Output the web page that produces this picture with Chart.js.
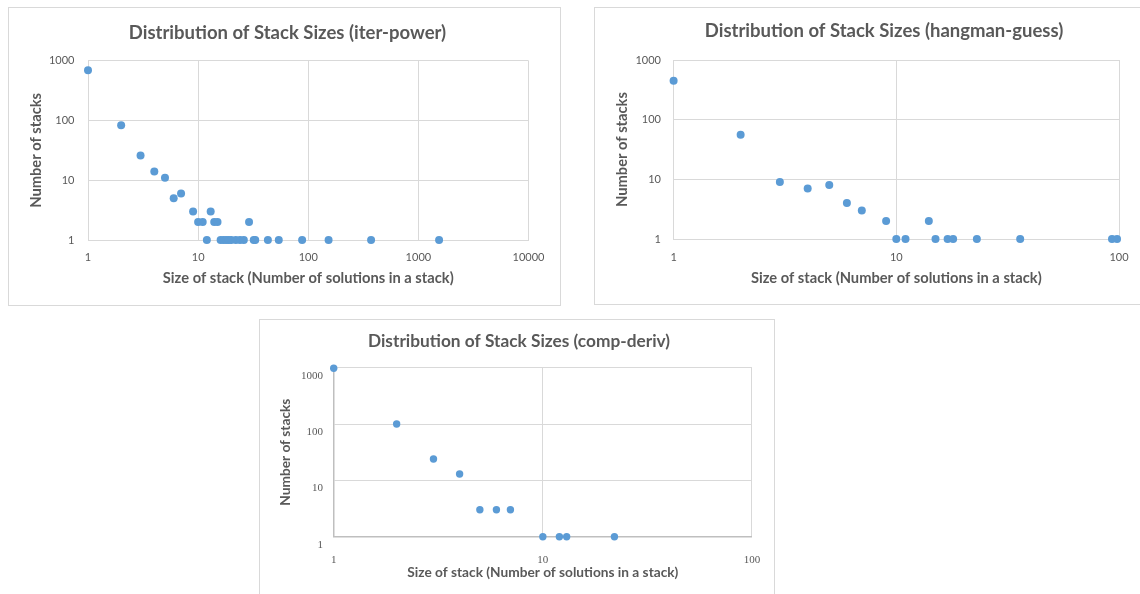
<!DOCTYPE html>
<html>
<head>
<meta charset="utf-8">
<script src="https://cdn.jsdelivr.net/npm/chart.js@4.4.1/dist/chart.umd.min.js"></script>
<style>
  html, body { margin: 0; padding: 0; background: #ffffff; }
  body { width: 1140px; height: 594px; position: relative; overflow: hidden; }
  .panel { position: absolute; box-sizing: border-box; border: 1px solid #d9d9d9; background: #fff; }
  .panel canvas { position: absolute; left: 0; top: 0; }
</style>
</head>
<body>
<div class="panel" id="p1" style="left:8px; top:7px; width:553px; height:299px;">
  <canvas id="c1" width="557" height="297" style="width:557px;height:297px;"></canvas>
</div>
<div class="panel" id="p2" style="left:594px; top:7px; width:590px; height:298px;">
  <canvas id="c2" width="578" height="296" style="width:578px;height:296px;"></canvas>
</div>
<div class="panel" id="p3" style="left:259px; top:319px; width:516px; height:300px;">
  <canvas id="c3" width="518" height="274" style="width:518px;height:274px;"></canvas>
</div>
<script>
// ---------- DATA ----------
const iterPowerSizes  = [1, 2, 3, 4, 5, 6, 7, 9, 10, 11, 12, 13, 14, 15, 16, 17, 18, 19, 20, 22, 24, 26, 29, 32, 33, 43, 54, 88, 153, 372, 1542];
const iterPowerCounts = [690, 83, 26, 14, 11, 5, 6, 3, 2, 2, 1, 3, 2, 2, 1, 1, 1, 1, 1, 1, 1, 1, 2, 1, 1, 1, 1, 1, 1, 1, 1];

const hangmanSizes  = [1, 2, 3, 4, 5, 6, 7, 9, 10, 11, 14, 15, 17, 18, 23, 36, 93, 98];
const hangmanCounts = [450, 56, 9, 7, 8, 4, 3, 2, 1, 1, 2, 1, 1, 1, 1, 1, 1, 1];

const compDerivSizes  = [1, 2, 3, 4, 5, 6, 7, 10, 12, 13, 22];
const compDerivCounts = [980, 100, 24, 13, 3, 3, 3, 1, 1, 1, 1];

const yTickValues = [1, 10, 100, 1000];
const yTickLabels = ['1', '10', '100', '1000'];
const xTickValues1 = [1, 10, 100, 1000, 10000];
const xTickLabels1 = ['1', '10', '100', '1000', '10000'];
const xTickValues2 = [1, 10, 100];
const xTickLabels2 = ['1', '10', '100'];

const titles = [
  'Distribution of Stack Sizes (iter-power)',
  'Distribution of Stack Sizes (hangman-guess)',
  'Distribution of Stack Sizes (comp-deriv)'
];
const xAxisTitle = 'Size of stack (Number of solutions in a stack)';
const yAxisTitle = 'Number of stacks';

// ---------- STYLE ----------
const TEXT = '#595959';
const GRID = '#d9d9d9';
const POINT = '#5b9bd5';
const FONT = 'Lato, "Open Sans", sans-serif';

function makeChart(id, sizes, counts, xVals, xLabels, L) {
  const ctx = document.getElementById(id);
  return new Chart(ctx, {
    type: 'scatter',
    data: {
      datasets: [{
        data: sizes.map((s, i) => ({ x: s, y: counts[i] })),
        backgroundColor: POINT,
        borderColor: POINT,
        borderWidth: 0,
        pointRadius: L.r,
        pointHoverRadius: L.r,
        clip: false
      }]
    },
    options: {
      responsive: false,
      animation: false,
      events: [],
      layout: { padding: 0 },
      plugins: {
        legend: { display: false },
        tooltip: { enabled: false },
        title: {
          display: true,
          text: L.title,
          color: TEXT,
          font: { family: FONT, size: L.titleSize, weight: 'bold', lineHeight: 1 },
          padding: { top: L.titleTop, bottom: L.titleBottom }
        }
      },
      scales: {
        x: {
          type: 'logarithmic',
          min: xVals[0],
          max: xVals[xVals.length - 1],
          afterBuildTicks: (s) => { s.ticks = xVals.map(v => ({ value: v })); },
          afterFit: (s) => { s.height = L.xHeight; },
          ticks: {
            autoSkip: false, maxRotation: 0, minRotation: 0,
            color: TEXT,
            padding: L.xTickPad,
            font: { family: L.tickFont, size: L.tickSize, lineHeight: 1 },
            callback: (v, i) => xLabels[i]
          },
          grid: { color: GRID, lineWidth: 1, drawTicks: false },
          border: { color: L.axisColor, width: L.axisWidth },
          title: {
            display: true, text: xAxisTitle, color: TEXT,
            font: { family: FONT, size: L.axisTitleSize, weight: 'bold', lineHeight: 1 },
            padding: { top: 0, bottom: L.xTitlePad }
          }
        },
        y: {
          type: 'logarithmic',
          min: 1,
          max: 1000,
          afterBuildTicks: (s) => { s.ticks = yTickValues.map(v => ({ value: v })); },
          afterFit: (s) => { s.width = L.yWidth; },
          ticks: {
            autoSkip: false,
            color: TEXT,
            padding: L.yTickPad,
            labelOffset: L.yLabelOffset,
            font: { family: L.tickFont, size: L.tickSize, lineHeight: 1 },
            callback: (v, i) => yTickLabels[i]
          },
          grid: { color: GRID, lineWidth: 1, drawTicks: false },
          border: { color: L.axisColor, width: L.axisWidth },
          title: {
            display: true, text: yAxisTitle, color: TEXT,
            font: { family: FONT, size: L.axisTitleSize, weight: 'bold', lineHeight: 1 },
            padding: { top: L.yTitlePad, bottom: 0 }
          }
        },
        spacer: {
          type: 'linear',
          position: 'right',
          display: true,
          afterFit: (s) => { s.width = L.padRight; },
          ticks: { display: false },
          grid: { display: false, drawTicks: false },
          border: { display: false },
          title: { display: false }
        }
      }
    }
  });
}

makeChart('c1', iterPowerSizes, iterPowerCounts, xTickValues1, xTickLabels1, {
  title: titles[0], titleSize: 18.5, titleTop: 15.75, titleBottom: 18.45,
  padRight: 37.5, xHeight: 65, yWidth: 79, xTickPad: 11.5, yTickPad: 13.5,
  yLabelOffset: 0, axisTitleSize: 14.7, xTitlePad: 19.65, yTitlePad: 19.65, r: 4,
  tickFont: FONT, tickSize: 11, axisColor: GRID, axisWidth: 1
});
makeChart('c2', hangmanSizes, hangmanCounts, xTickValues2, xTickLabels2, {
  title: titles[1], titleSize: 18.5, titleTop: 13.75, titleBottom: 19.75,
  padRight: 54, xHeight: 65, yWidth: 78.6, xTickPad: 12.5, yTickPad: 12.6,
  yLabelOffset: 0, axisTitleSize: 14.7, xTitlePad: 18.65, yTitlePad: 19.65, r: 4,
  tickFont: FONT, tickSize: 11, axisColor: GRID, axisWidth: 1
});
makeChart('c3', compDerivSizes, compDerivCounts, xTickValues2, xTickLabels2, {
  title: titles[2], titleSize: 17.3, titleTop: 12.35, titleBottom: 18.05,
  padRight: 26, xHeight: 57.3, yWidth: 73.7, xTickPad: 17.8, yTickPad: 10.7,
  yLabelOffset: 8, axisTitleSize: 13.7, xTitlePad: 14.45, yTitlePad: 18.55, r: 3.7,
  tickFont: '"Liberation Serif", "DejaVu Serif", serif', tickSize: 11, axisColor: '#bfbfbf', axisWidth: 1.5
});
</script>
</body>
</html>
